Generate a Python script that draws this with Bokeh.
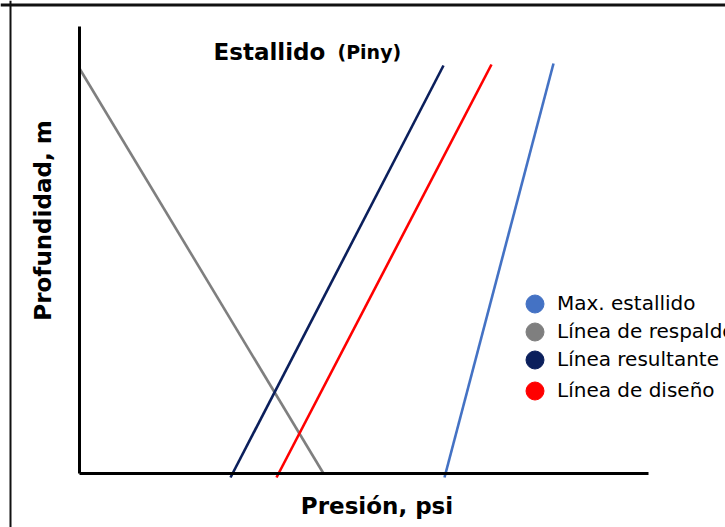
import math
from bokeh.plotting import figure
from bokeh.models import (Range1d, Label, Legend, LegendItem, ColumnDataSource,
                          FixedTicker, Span)
from bokeh.embed import file_html
from bokeh.resources import INLINE

# ---- data (pressure in psi units, depth in m) ----
series_names = ["Max. estallido", "Línea de respaldo", "Línea resultante", "Línea de diseño"]
series_colors = ["#4472C4", "#7F7F7F", "#0B1F5C", "#FF0000"]

max_estallido_p = [3650, 4740]
max_estallido_d = [4500, 360]

respaldo_p = [0, 2440]
respaldo_d = [410, 4460]

resultante_p = [1510, 3640]
resultante_d = [4500, 380]

diseno_p = [1970, 4120]
diseno_d = [4500, 370]

x_axis_depth = 4460
x_axis_max = 5690

FONT = "DejaVu Sans"
W, H = 725, 527

p = figure(width=W, height=H,
           x_range=Range1d(-790, 6460), y_range=Range1d(5000, -270),
           output_backend="svg", toolbar_location=None,
           min_border_left=0, min_border_right=0,
           min_border_top=0, min_border_bottom=0)

p.xgrid.visible = False
p.ygrid.visible = False
p.outline_line_color = None
p.background_fill_color = "white"
p.border_fill_color = "white"

for ax in (p.xaxis, p.yaxis):
    ax.ticker = FixedTicker(ticks=[])
    ax.axis_line_width = 3
    ax.axis_line_color = "black"
    ax.major_tick_line_color = None
    ax.minor_tick_line_color = None
    ax.major_tick_out = 0
    ax.major_tick_in = 0
    ax.minor_tick_out = 0
    ax.major_label_standoff = 0
    ax.major_label_text_font_size = "0px"
p.xaxis.fixed_location = x_axis_depth
p.xaxis.bounds = (0, x_axis_max)
p.yaxis.fixed_location = 0
p.yaxis.bounds = (-10, x_axis_depth)

# frame border of the original picture
p.add_layout(Span(location=-225, dimension="width", line_color="#111111", line_width=3))
p.add_layout(Span(location=-690, dimension="height", line_color="#111111", line_width=2))

lw = 2.6
p.line(respaldo_p, respaldo_d, line_color=series_colors[1], line_width=lw)
p.line(resultante_p, resultante_d, line_color=series_colors[2], line_width=lw)
p.line(diseno_p, diseno_d, line_color=series_colors[3], line_width=lw)
p.line(max_estallido_p, max_estallido_d, line_color=series_colors[0], line_width=lw)

# legend: one single-item legend per row (circle markers, legend-only renderers)
row_centers = [303, 331, 359, 390]   # layout: vertical centres of legend rows (px)
box = 45
for name, col, cy in zip(series_names, series_colors, row_centers):
    r = p.scatter(x="x", y="y",
                  source=ColumnDataSource(dict(x=[float("nan")], y=[float("nan")])),
                  marker="circle", fill_color=col, line_color=col)
    lg = Legend(items=[LegendItem(label=name, renderers=[r])],
                location=(512, H - (cy + box / 2)),
                glyph_width=box, glyph_height=box, spacing=0,
                label_standoff=0, label_text_font=FONT,
                label_text_font_size="20px", label_text_color="#000000",
                padding=0, margin=0, border_line_color=None,
                background_fill_alpha=0)
    p.add_layout(lg)

# titles / axis labels
p.add_layout(Label(x=1340, y=240, text="Estallido", text_font=FONT,
                   text_color="black",
                   text_font_size="23px", text_font_style="bold",
                   text_baseline="alphabetic", text_align="left"))
p.add_layout(Label(x=2580, y=240, text="(Piny)", text_font=FONT,
                   text_color="black",
                   text_font_size="19px", text_font_style="bold",
                   text_baseline="alphabetic", text_align="left"))
p.add_layout(Label(x=-370, y=1930, text="Profundidad, m", angle=math.pi / 2,
                   text_color="black",
                   text_font=FONT, text_font_size="23px",
                   text_font_style="bold", text_align="center",
                   text_baseline="middle"))
p.add_layout(Label(x=2975, y=4780, text="Presión, psi",
                   text_color="black",
                   text_font=FONT, text_font_size="23px",
                   text_font_style="bold", text_align="center",
                   text_baseline="middle"))

open("out.html", "w").write(file_html(p, INLINE))
